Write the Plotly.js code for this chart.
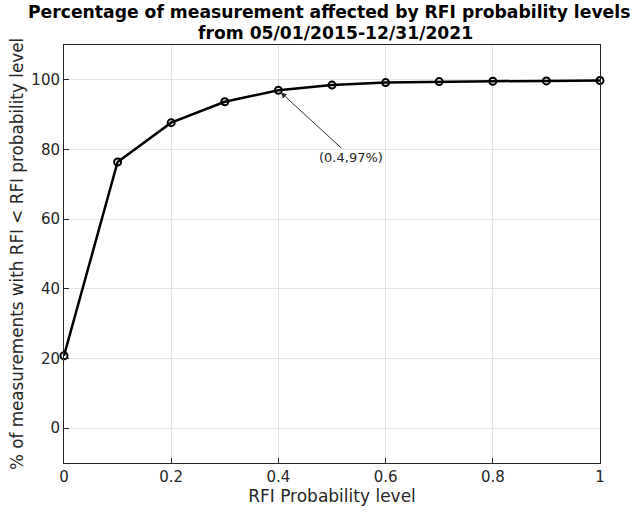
<!DOCTYPE html>
<html>
<head>
<meta charset="utf-8">
<script src="https://cdn.plot.ly/plotly-3.0.1.min.js"></script>
<style>html,body{margin:0;padding:0;background:#fff;}#chart{width:632px;height:512px;}</style>
</head>
<body>
<div id="chart"></div>
<script>
var probLevels = [0, 0.1, 0.2, 0.3, 0.4, 0.5, 0.6, 0.7, 0.8, 0.9, 1.0];
var pctBelow = [20.8, 76.4, 87.7, 93.7, 97.0, 98.5, 99.2, 99.5, 99.6, 99.7, 99.8];
var xTicks = [0, 0.2, 0.4, 0.6, 0.8, 1];
var yTicks = [0, 20, 40, 60, 80, 100];
var titleLines = ['Percentage of measurement affected by RFI probability levels', 'from 05/01/2015-12/31/2021'];

var font = "DejaVu Sans, sans-serif";
var trace = {
  x: probLevels, y: pctBelow, type: 'scatter', mode: 'lines+markers',
  line: {color: '#000', width: 2.5},
  marker: {symbol: 'circle-open', size: 7, color: '#000', line: {width: 2, color: '#000'}},
  cliponaxis: false, hoverinfo: 'none'
};
var axisCommon = {
  showline: true, mirror: true, linecolor: '#262626', linewidth: 1,
  ticks: 'inside', ticklen: 5, tickcolor: '#262626', tickwidth: 1,
  showgrid: true, gridcolor: '#e3e3e3', gridwidth: 1, zeroline: false,
  tickfont: {family: font, size: 15, color: '#262626'}
};
var layout = {
  width: 632, height: 512,
  margin: {l: 64, r: 32, t: 45, b: 49},
  paper_bgcolor: '#fff', plot_bgcolor: '#fff',
  showlegend: false,
  xaxis: Object.assign({}, axisCommon, {
    range: [0, 1], tickvals: xTicks, ticktext: xTicks.map(String),
    title: {text: 'RFI Probability level', font: {family: font, size: 17, color: '#262626'}, standoff: 4}
  }),
  yaxis: Object.assign({}, axisCommon, {
    range: [-10, 110], tickvals: yTicks, ticktext: yTicks.map(String),
    title: {text: '% of measurements with RFI < RFI probability level', font: {family: font, size: 16.8, color: '#262626'}, standoff: 3}
  }),
  annotations: [{
    x: 0.4, y: 97, xref: 'x', yref: 'y', text: '(0.4,97%)',
    showarrow: true, arrowhead: 2, arrowsize: 1.2, arrowwidth: 1, arrowcolor: '#333',
    ax: 73, ay: 67, standoff: 3,
    font: {family: font, size: 13, color: '#262626'}
  }, {
    x: 0.5, y: 1.0789, xref: 'paper', yref: 'paper', xanchor: 'center', yanchor: 'middle',
    text: '<b>' + titleLines[0] + '</b>', showarrow: false, xshift: -3,
    font: {family: font, size: 17.2, color: '#000'}
  }, {
    x: 0.5, y: 1.0287, xref: 'paper', yref: 'paper', xanchor: 'center', yanchor: 'middle',
    text: '<b>' + titleLines[1] + '</b>', showarrow: false, xshift: 3,
    font: {family: font, size: 17.2, color: '#000'}
  }]
};
Plotly.newPlot('chart', [trace], layout, {displayModeBar: false, staticPlot: true});
</script>
</body>
</html>
